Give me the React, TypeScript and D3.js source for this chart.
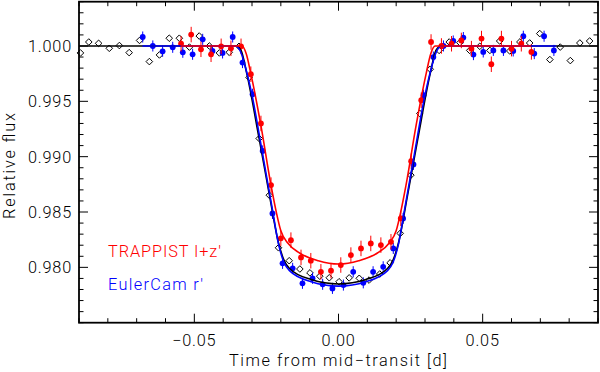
import React from 'react';
import * as d3 from 'd3';

// open diamonds (black, no error bars)
const diaTime = [
  -0.0895, -0.0866, -0.0832, -0.0795, -0.076, -0.0726, -0.069, -0.0656, -0.0621, -0.0587,
  -0.0552, -0.0517, -0.0483, -0.0448, -0.0413, -0.0379, -0.0345, -0.031, -0.0275, -0.024,
  -0.0208, -0.0171, -0.0134, -0.0099, -0.0065, -0.0032, 0.0002, 0.0037, 0.0072, 0.0106,
  0.0143, 0.0179, 0.0214, 0.0251, 0.0282, 0.0318, 0.0349, 0.0384, 0.0421, 0.0455,
  0.049, 0.0525, 0.0559, 0.0594, 0.0629, 0.0663, 0.0698, 0.0733, 0.0769, 0.0804,
  0.0837, 0.0871
];
const diaFlux = [
  0.99937, 1.00036, 1.00024, 0.99979, 1.00004, 0.9994, 1.0005, 0.99859, 0.99919, 1.0007,
  1.0007, 0.9999, 1.0009, 1.0, 0.99937, 0.99943, 0.99997, 0.99715, 0.99164, 0.98652,
  0.98177, 0.9806, 0.97985, 0.9795, 0.9792, 0.97906, 0.9787, 0.97905, 0.97901, 0.97885,
  0.9794, 0.98041, 0.98307, 0.98833, 0.9939, 0.9979, 0.9996, 1.00036, 1.0003, 0.9996,
  0.99997, 0.9996, 1.00045, 0.99955, 1.00036, 1.00027, 1.00112, 0.99877, 0.9999, 0.99868,
  1.00027, 1.00045
];

// EulerCam r' (blue)
const eulerTime = [
  -0.0679, -0.0644, -0.061, -0.0575, -0.054, -0.0506, -0.0471, -0.0437, -0.0402, -0.0367,
  -0.0333, -0.0298, -0.0263, -0.0229, -0.0194, -0.0159, -0.0125, -0.009, -0.0055, -0.0021,
  0.0017, 0.0051, 0.0086, 0.012, 0.0155, 0.019, 0.0224, 0.026, 0.0295, 0.0329,
  0.0364, 0.0398, 0.0433, 0.0468, 0.0502, 0.0537, 0.0572, 0.0606, 0.0641, 0.0679,
  0.0713, 0.0747
];
const eulerFlux = [
  1.00081, 1.0, 0.99952, 0.99988, 0.99943, 0.99925, 1.0006, 0.99955, 0.99937, 1.00081,
  0.9985, 0.99564, 0.99052, 0.98487, 0.98036, 0.97991, 0.97856, 0.97901, 0.97847, 0.9781,
  0.9784, 0.9796, 0.9786, 0.9796, 0.98005, 0.98171, 0.98442, 0.9893, 0.99555, 0.999,
  1.0, 1.00045, 1.00076, 0.99922, 0.99946, 0.9996, 0.9996, 0.99955, 1.00088, 0.99931,
  1.00088, 0.9996
];
const eulerErr = 0.0005;

// TRAPPIST I+z' (red)
const trapTime = [
  -0.0546, -0.0511, -0.0477, -0.0442, -0.0407, -0.0373, -0.0338, -0.0304, -0.0269, -0.0234,
  -0.02, -0.0165, -0.013, -0.0096, -0.0061, -0.0026, 0.0008, 0.0043, 0.0078, 0.0112,
  0.0147, 0.0182, 0.0216, 0.0252, 0.0287, 0.0321, 0.0357, 0.0392, 0.0426, 0.0461,
  0.0496, 0.053, 0.0565, 0.06, 0.0634, 0.0669
];
const trapFlux = [
  1.0002, 1.00103, 0.9997, 0.99925, 0.99997, 0.99979, 0.99997, 0.99745, 0.993, 0.98743,
  0.98262, 0.98246, 0.9809, 0.9806, 0.9796, 0.9797, 0.98021, 0.98111, 0.98171, 0.98216,
  0.98201, 0.98231, 0.98442, 0.98959, 0.9951, 1.00036, 1.0, 1.0002, 1.0005, 0.99976,
  1.00067, 0.99835, 1.00067, 0.99976, 1.0002, 0.99946
];
const trapErr = 0.0007;

// model curves
const blackModelT = [-0.09, -0.0355, -0.0338, -0.0318, -0.0275, -0.024, -0.0208, -0.019, -0.017, -0.0095, 0,
  0.0095, 0.017, 0.019, 0.0208, 0.024, 0.0275, 0.0318, 0.0338, 0.0355, 0.09];
const blackModelF = [1.0, 1.0, 0.9996, 0.9975, 0.9916, 0.9866, 0.9822, 0.9807, 0.9799, 0.9789, 0.9785,
  0.9789, 0.9799, 0.9807, 0.9822, 0.9866, 0.9916, 0.9975, 0.9996, 1.0, 1.0];

const blueModelT = [-0.068, -0.0358, -0.034, -0.0318, -0.0298, -0.0263, -0.0229, -0.0208, -0.019, -0.017, -0.0095, 0,
  0.0095, 0.017, 0.019, 0.0208, 0.0229, 0.0263, 0.0298, 0.0318, 0.034, 0.0358, 0.0755];
const blueModelF = [1.0, 1.0, 0.9995, 0.9976, 0.9953, 0.9902, 0.9852, 0.9821, 0.9805, 0.9797, 0.9787, 0.9783,
  0.9787, 0.9797, 0.9805, 0.9821, 0.9852, 0.9902, 0.9953, 0.9976, 0.9995, 1.0, 1.0];

const redModelT = [-0.0548, -0.0335, -0.032, -0.0304, -0.0269, -0.0234, -0.0215, -0.02, -0.0176, -0.0135, -0.007, 0,
  0.007, 0.0135, 0.0176, 0.02, 0.0215, 0.0234, 0.0269, 0.0304, 0.032, 0.0335, 0.0668];
const redModelF = [1.0, 1.0, 0.9993, 0.9975, 0.9928, 0.9874, 0.9849, 0.9833, 0.9822, 0.9813, 0.9806, 0.9803,
  0.9806, 0.9813, 0.9822, 0.9833, 0.9849, 0.9874, 0.9928, 0.9975, 0.9993, 1.0, 1.0];

const xMajor = [-0.05, 0, 0.05];
const xLabels = ['\u22120.05', '0.00', '0.05'];
const yMajor = [0.98, 0.985, 0.99, 0.995, 1.0];
const yLabels = ['0.980', '0.985', '0.990', '0.995', '1.000'];

const W = 600;
const H = 372;
const L = 79, R = 598, T = 1.7, B = 322.7;
const font = "Roboto, 'Liberation Sans', Arial, sans-serif";

export default function App() {
  const x = d3.scaleLinear().domain([-0.09, 0.09]).range([L, R]);
  const y = d3.scaleLinear().domain([0.975, 1.004]).range([B, T]);
  const line = d3.line<[number, number]>()
    .x(d => x(d[0]))
    .y(d => y(d[1]))
    .curve(d3.curveMonotoneX);

  const xMinor = d3.range(-9, 10).map(i => i / 100);
  const yMinor = d3.range(975, 1005).map(i => i / 1000);
  const maj = 9, mnr = 4.5;

  const pts = (t: number[], f: number[]) => t.map((v, i) => [v, f[i]] as [number, number]);

  return (
    <svg width={W} height={H} style={{ position: 'absolute', left: 0, top: 0, background: '#fff' }}
      fontFamily={font} fontWeight={300}>
      {/* ticks */}
      <g stroke="#000" strokeWidth={1}>
        {xMinor.map(v => {
          const m = xMajor.some(k => Math.abs(k - v) < 1e-9);
          const l = m ? maj : mnr;
          return (
            <g key={'xt' + v}>
              <line x1={x(v)} x2={x(v)} y1={B} y2={B - l} />
              <line x1={x(v)} x2={x(v)} y1={T} y2={T + l} />
            </g>
          );
        })}
        {yMinor.map(v => {
          const m = yMajor.some(k => Math.abs(k - v) < 1e-9);
          const l = m ? maj : mnr;
          return (
            <g key={'yt' + v}>
              <line x1={L} x2={L + l} y1={y(v)} y2={y(v)} />
              <line x1={R} x2={R - l} y1={y(v)} y2={y(v)} />
            </g>
          );
        })}
      </g>

      {/* diamonds */}
      <g fill="none" stroke="#000" strokeWidth={1}>
        {pts(diaTime, diaFlux).map((d, i) => {
          const cx = x(d[0]), cy = y(d[1]), s = 3.3;
          return <path key={'d' + i} d={`M${cx},${cy - s}L${cx + s},${cy}L${cx},${cy + s}L${cx - s},${cy}Z`} />;
        })}
      </g>

      {/* EulerCam */}
      <g>
        {pts(eulerTime, eulerFlux).map((d, i) => (
          <g key={'e' + i}>
            <line x1={x(d[0])} x2={x(d[0])} y1={y(d[1] - eulerErr)} y2={y(d[1] + eulerErr)} stroke="#0000ff" strokeWidth={1} />
            <circle cx={x(d[0])} cy={y(d[1])} r={2.9} fill="#0000ff" />
          </g>
        ))}
      </g>

      {/* TRAPPIST */}
      <g>
        {pts(trapTime, trapFlux).map((d, i) => (
          <g key={'t' + i}>
            <line x1={x(d[0])} x2={x(d[0])} y1={y(d[1] - trapErr)} y2={y(d[1] + trapErr)} stroke="#ff0000" strokeWidth={1} />
            <circle cx={x(d[0])} cy={y(d[1])} r={2.9} fill="#ff0000" />
          </g>
        ))}
      </g>

      {/* models */}
      <path d={line(pts(blackModelT, blackModelF)) || ''} fill="none" stroke="#000" strokeWidth={1.6} />
      <path d={line(pts(blueModelT, blueModelF)) || ''} fill="none" stroke="#0000ff" strokeWidth={1.6} />
      <path d={line(pts(redModelT, redModelF)) || ''} fill="none" stroke="#ff0000" strokeWidth={1.6} />

      {/* frame */}
      <rect x={L} y={T} width={R - L} height={B - T} fill="none" stroke="#000" strokeWidth={1.8} />

      {/* tick labels */}
      <g fontSize={16.3} fill="#000" letterSpacing={0.8}>
        {yMajor.map((v, i) => (
          <text key={'yl' + i} x={72} y={y(v) + 6} textAnchor="end">{yLabels[i]}</text>
        ))}
        {xMajor.map((v, i) => (
          <text key={'xl' + i} x={x(v)} y={346} textAnchor="middle">{xLabels[i]}</text>
        ))}
      </g>

      {/* axis titles */}
      <text x={338} y={366} textAnchor="middle" fontSize={16.3} textLength={218} lengthAdjust="spacing">
        Time from mid{'\u2212'}transit [d]
      </text>
      <text transform="translate(15,166) rotate(-90)" textAnchor="middle" fontSize={16.3}
        textLength={106} lengthAdjust="spacing">
        Relative flux
      </text>

      {/* legend */}
      <text x={108} y={256.7} fontSize={16.3} fill="#ff0000" textLength={113} lengthAdjust="spacing">TRAPPIST I+z'</text>
      <text x={108} y={290} fontSize={16.3} fill="#0000ff" textLength={95} lengthAdjust="spacing">EulerCam r'</text>
    </svg>
  );
}
